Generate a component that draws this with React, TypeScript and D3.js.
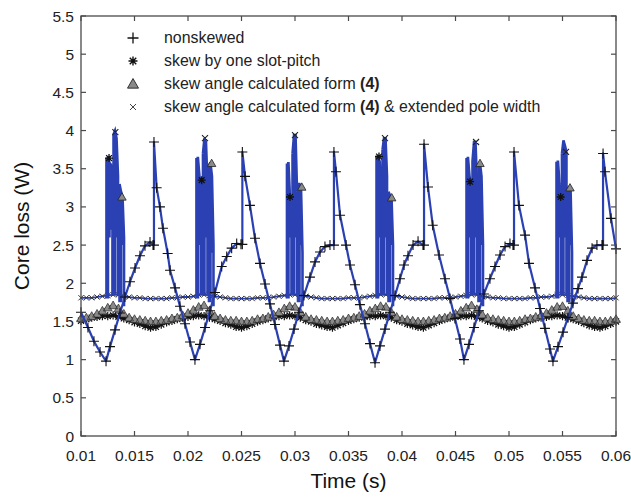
import React from "react";
import * as d3 from "d3";

const W = 631;
const H = 499;
const PL = 81, PR = 616, PT = 16, PB = 436;

const xTicks = [0.01, 0.015, 0.02, 0.025, 0.03, 0.035, 0.04, 0.045, 0.05, 0.055, 0.06];
const xTickLabels = ["0.01", "0.015", "0.02", "0.025", "0.03", "0.035", "0.04", "0.045", "0.05", "0.055", "0.06"];
const yTicks = [0, 0.5, 1, 1.5, 2, 2.5, 3, 3.5, 4, 4.5, 5, 5.5];
const yTickLabels = ["0", "0.5", "1", "1.5", "2", "2.5", "3", "3.5", "4", "4.5", "5", "5.5"];

const seriesNames = [
  "nonskewed",
  "skew by one slot-pitch",
  "skew angle calculated form ",
  "skew angle calculated form ",
];

// nonskewed core loss [time s, W]
const nonskewed: [number, number][] = [
  [0.01, 1.62], [0.01065, 1.42], [0.01121, 1.24], [0.01178, 1.1], [0.01234, 0.98],
  [0.01271, 1.17], [0.01318, 1.39], [0.01364, 1.61], [0.01411, 1.82], [0.01458, 2.02],
  [0.01505, 2.2], [0.01551, 2.36], [0.01598, 2.49], [0.01645, 2.54], [0.01673, 2.5],
  [0.01682, 2.5], [0.01682, 3.85], [0.01707, 3.25], [0.01738, 3.0], [0.01766, 2.72],
  [0.0181, 2.39], [0.01832, 2.17], [0.01879, 1.94], [0.01925, 1.7], [0.01972, 1.47],
  [0.02019, 1.23], [0.02065, 1.0],
  [0.02112, 1.2], [0.02159, 1.42], [0.02206, 1.64], [0.02252, 1.88], [0.02315, 2.22],
  [0.02362, 2.35], [0.02408, 2.46], [0.02455, 2.52], [0.02495, 2.51], [0.02508, 2.51],
  [0.02508, 3.72], [0.02533, 3.4], [0.02579, 3.02], [0.02626, 2.59], [0.02673, 2.26],
  [0.0272, 1.99], [0.02766, 1.73], [0.02813, 1.46], [0.0286, 1.19], [0.02897, 0.98],
  [0.02944, 1.18], [0.02991, 1.4], [0.03037, 1.62], [0.03084, 1.84], [0.0314, 2.08],
  [0.03187, 2.28], [0.03234, 2.41], [0.0328, 2.48], [0.03327, 2.5], [0.03364, 2.5],
  [0.03364, 3.72], [0.03383, 3.46], [0.03421, 2.89], [0.03477, 2.5], [0.03514, 2.24],
  [0.03561, 1.98], [0.03607, 1.72], [0.03654, 1.47], [0.03701, 1.21], [0.03748, 0.96],
  [0.03794, 1.18], [0.03841, 1.4], [0.03888, 1.62], [0.03935, 1.84], [0.03981, 2.06],
  [0.04019, 2.24], [0.04056, 2.36], [0.04103, 2.5], [0.0415, 2.55], [0.04196, 2.5],
  [0.04206, 2.5], [0.04206, 3.82], [0.04243, 3.26], [0.04287, 2.76], [0.04346, 2.37],
  [0.04402, 2.06], [0.04449, 1.8], [0.04495, 1.54], [0.04542, 1.27], [0.04579, 1.0],
  [0.04626, 1.2], [0.04673, 1.42], [0.0472, 1.64], [0.04766, 1.86], [0.04822, 2.06],
  [0.04869, 2.22], [0.04916, 2.37], [0.04963, 2.48], [0.05009, 2.52], [0.05037, 2.5],
  [0.05047, 2.5], [0.05047, 3.72], [0.05093, 3.02], [0.0515, 2.63], [0.05187, 2.26],
  [0.05243, 1.94], [0.0529, 1.67], [0.05336, 1.41], [0.05383, 1.14], [0.05411, 0.98],
  [0.05458, 1.17], [0.05505, 1.36], [0.05551, 1.55], [0.05598, 1.74], [0.05645, 1.93],
  [0.05682, 2.08], [0.05729, 2.3], [0.05776, 2.46], [0.05822, 2.5], [0.05869, 2.5],
  [0.05879, 2.5], [0.05879, 3.7], [0.05897, 3.46], [0.05953, 2.85], [0.06, 2.45],
];

// common sample times of the three skewed designs
const sampleT = [
  0.01, 0.0105, 0.011, 0.0115, 0.012, 0.0125, 0.013, 0.0135, 0.014, 0.0145,
  0.015, 0.0155, 0.016, 0.0165, 0.017, 0.0175, 0.018, 0.0185, 0.019, 0.0195,
  0.02, 0.0205, 0.021, 0.0215, 0.022, 0.0225, 0.023, 0.0235, 0.024, 0.0245,
  0.025, 0.0255, 0.026, 0.0265, 0.027, 0.0275, 0.028, 0.0285, 0.029, 0.0295,
  0.03, 0.0305, 0.031, 0.0315, 0.032, 0.0325, 0.033, 0.0335, 0.034, 0.0345,
  0.035, 0.0355, 0.036, 0.0365, 0.037, 0.0375, 0.038, 0.0385, 0.039, 0.0395,
  0.04, 0.0405, 0.041, 0.0415, 0.042, 0.0425, 0.043, 0.0435, 0.044, 0.0445,
  0.045, 0.0455, 0.046, 0.0465, 0.047, 0.0475, 0.048, 0.0485, 0.049, 0.0495,
  0.05, 0.0505, 0.051, 0.0515, 0.052, 0.0525, 0.053, 0.0535, 0.054, 0.0545,
  0.055, 0.0555, 0.056, 0.0565, 0.057, 0.0575, 0.058, 0.0585, 0.059, 0.0595,
  0.06,
];

// skew by one slot-pitch
const slotPitchV = [
  1.51, 1.53, 1.55, 1.56, 1.57, 1.57, 1.58, 1.56, 1.54, 1.52,
  1.49, 1.47, 1.44, 1.42, 1.43, 1.46, 1.49, 1.51, 1.53, 1.55,
  1.56, 1.57, 1.58, 1.57, 1.55, 1.53, 1.51, 1.48, 1.46, 1.43,
  1.42, 1.44, 1.47, 1.5, 1.52, 1.54, 1.56, 1.57, 1.57, 1.58,
  1.57, 1.55, 1.52, 1.5, 1.47, 1.45, 1.43, 1.42, 1.45, 1.48,
  1.51, 1.53, 1.55, 1.56, 1.57, 1.57, 1.58, 1.57, 1.55, 1.52,
  1.5, 1.47, 1.45, 1.43, 1.42, 1.45, 1.48, 1.51, 1.53, 1.55,
  1.56, 1.57, 1.57, 1.58, 1.56, 1.54, 1.51, 1.49, 1.46, 1.44,
  1.42, 1.43, 1.46, 1.49, 1.52, 1.54, 1.55, 1.56, 1.57, 1.58,
  1.57, 1.55, 1.53, 1.51, 1.48, 1.45, 1.43, 1.42, 1.44, 1.47,
  1.5,
];

// skew angle calculated form (4)
const formV = [
  1.54, 1.55, 1.57, 1.6, 1.64, 1.68, 1.71, 1.67, 1.6, 1.55,
  1.53, 1.52, 1.51, 1.5, 1.5, 1.51, 1.52, 1.54, 1.55, 1.58,
  1.61, 1.65, 1.69, 1.71, 1.64, 1.57, 1.54, 1.52, 1.51, 1.51,
  1.5, 1.5, 1.51, 1.53, 1.54, 1.56, 1.59, 1.62, 1.67, 1.7,
  1.69, 1.62, 1.56, 1.53, 1.52, 1.51, 1.5, 1.5, 1.51, 1.52,
  1.54, 1.55, 1.57, 1.6, 1.64, 1.67, 1.7, 1.69, 1.62, 1.56,
  1.53, 1.52, 1.51, 1.5, 1.5, 1.51, 1.52, 1.54, 1.55, 1.57,
  1.6, 1.64, 1.68, 1.71, 1.66, 1.59, 1.55, 1.53, 1.52, 1.51,
  1.5, 1.5, 1.51, 1.53, 1.54, 1.56, 1.58, 1.61, 1.65, 1.69,
  1.7, 1.64, 1.57, 1.54, 1.52, 1.51, 1.51, 1.5, 1.5, 1.51,
  1.53,
];

// skew angle calculated form (4) & extended pole width
const extendedV = [
  1.81, 1.81, 1.81, 1.82, 1.83, 1.84, 1.85, 1.85, 1.83, 1.82,
  1.81, 1.81, 1.8, 1.8, 1.8, 1.8, 1.8, 1.81, 1.81, 1.82,
  1.82, 1.83, 1.85, 1.85, 1.84, 1.83, 1.82, 1.81, 1.8, 1.8,
  1.8, 1.8, 1.8, 1.81, 1.81, 1.81, 1.82, 1.83, 1.84, 1.85,
  1.85, 1.84, 1.83, 1.82, 1.81, 1.8, 1.8, 1.8, 1.8, 1.8,
  1.81, 1.81, 1.81, 1.82, 1.83, 1.84, 1.85, 1.85, 1.84, 1.83,
  1.82, 1.81, 1.8, 1.8, 1.8, 1.8, 1.8, 1.81, 1.81, 1.81,
  1.82, 1.83, 1.84, 1.85, 1.85, 1.83, 1.82, 1.81, 1.81, 1.8,
  1.8, 1.8, 1.8, 1.8, 1.81, 1.81, 1.82, 1.82, 1.83, 1.85,
  1.85, 1.84, 1.83, 1.82, 1.81, 1.8, 1.8, 1.8, 1.8, 1.8,
  1.81,
];

// numerical spikes: groups of [time, low, high]
const slotPitchSpikes: [number, number, number][][] = [
  [[0.01238, 1.8, 3.64], [0.01252, 1.8, 3.64], [0.01266, 2.6, 3.58], [0.0128, 2.7, 3.55], [0.01294, 1.85, 3.55]],
  [[0.02079, 1.8, 3.64], [0.02093, 1.8, 3.64], [0.02107, 2.5, 3.4], [0.02121, 1.85, 3.35]],
  [[0.02925, 1.8, 3.57], [0.02939, 1.8, 3.57], [0.02953, 2.6, 3.13], [0.02967, 1.85, 3.0]],
  [[0.03762, 1.8, 3.66], [0.03776, 1.8, 3.66], [0.0379, 2.6, 3.6], [0.03804, 1.85, 3.5]],
  [[0.04603, 1.8, 3.64], [0.04617, 1.8, 3.64], [0.04631, 2.6, 3.4], [0.04645, 1.85, 3.33]],
  [[0.05444, 1.8, 3.59], [0.05458, 1.8, 3.59], [0.05472, 2.6, 3.3], [0.05486, 1.85, 3.13]],
];
const extendedSpikes: [number, number, number][][] = [
  [[0.01304, 1.85, 3.95], [0.01318, 1.85, 4.0], [0.01332, 2.6, 3.9], [0.01346, 1.85, 3.4]],
  [[0.0214, 1.85, 3.7], [0.02154, 1.85, 3.9], [0.02168, 2.6, 3.85], [0.02182, 1.85, 3.3]],
  [[0.02977, 1.85, 3.7], [0.02991, 1.85, 3.94], [0.03005, 2.6, 3.94], [0.03019, 1.85, 3.2]],
  [[0.03818, 1.85, 3.75], [0.03832, 1.85, 3.9], [0.03846, 2.6, 3.9], [0.0386, 1.85, 3.4]],
  [[0.04659, 1.85, 3.6], [0.04673, 1.85, 3.85], [0.04687, 2.6, 3.85], [0.04701, 1.85, 3.3]],
  [[0.05495, 1.85, 3.7], [0.05509, 1.85, 3.87], [0.05523, 2.6, 3.8], [0.05537, 1.85, 3.72]],
];
const formSpikes: [number, number, number][][] = [
  [[0.0136, 1.75, 3.3], [0.01374, 1.75, 3.2], [0.01388, 2.5, 3.13], [0.01402, 1.7, 2.6]],
  [[0.02196, 1.75, 3.57], [0.0221, 1.75, 3.57], [0.02224, 2.4, 3.4], [0.02238, 1.7, 2.5]],
  [[0.03028, 1.75, 3.3], [0.03042, 1.75, 3.3], [0.03056, 2.5, 3.26], [0.0307, 1.7, 2.4]],
  [[0.03874, 1.75, 3.2], [0.03888, 1.75, 3.15], [0.03902, 2.5, 3.12], [0.03916, 1.7, 2.5]],
  [[0.04715, 1.75, 3.57], [0.04729, 1.75, 3.57], [0.04743, 2.5, 3.4], [0.04757, 1.7, 2.5]],
  [[0.05547, 1.75, 3.26], [0.05561, 1.75, 3.26], [0.05575, 2.5, 3.25], [0.05589, 1.7, 2.4]],
];
const slotPitchTops: [number, number][] = [
  [0.01262, 3.64], [0.02128, 3.35], [0.02953, 3.13], [0.03785, 3.66], [0.04636, 3.33], [0.05483, 3.13],
];
const extendedTops: [number, number][] = [
  [0.01321, 3.98], [0.02159, 3.9], [0.03, 3.94], [0.03841, 3.9], [0.04692, 3.85], [0.05533, 3.72],
];
const formTops: [number, number][] = [
  [0.01383, 3.13], [0.02221, 3.57], [0.03063, 3.26], [0.03904, 3.12], [0.04729, 3.57], [0.0557, 3.25],
];

const BLUE = "#2b41b3";
const AXIS = "#4a4a4a";
const FONT = "'Liberation Sans', Arial, Helvetica, sans-serif";

const plusP = (cx: number, cy: number, s: number) => `M${cx - s},${cy}H${cx + s}M${cx},${cy - s}V${cy + s}`;
const crossP = (cx: number, cy: number, s: number) =>
  `M${cx - s},${cy - s}L${cx + s},${cy + s}M${cx - s},${cy + s}L${cx + s},${cy - s}`;
const starP = (cx: number, cy: number, s: number) => plusP(cx, cy, s) + crossP(cx, cy, s * 0.72);
const triP = (cx: number, cy: number, s: number) =>
  `M${cx},${cy - s}L${cx + s},${cy + s * 0.75}L${cx - s},${cy + s * 0.75}Z`;

export default function App() {
  const x = d3.scaleLinear().domain([0.01, 0.06]).range([PL, PR]);
  const y = d3.scaleLinear().domain([0, 5.5]).range([PB, PT]);
  const line = d3
    .line<[number, number]>()
    .x((d) => x(d[0]))
    .y((d) => y(d[1]));
  const smooth = d3
    .line<[number, number]>()
    .x((d) => x(d[0]))
    .y((d) => y(d[1]))
    .curve(d3.curveMonotoneX);

  const slotPts: [number, number][] = sampleT.map((t, i) => [t, slotPitchV[i]]);
  const formPts: [number, number][] = sampleT.map((t, i) => [t, formV[i]]);
  const extPts: [number, number][] = sampleT.map((t, i) => [t, extendedV[i]]);

  const spikePath = (groups: [number, number, number][][]) =>
    groups
      .map((g) => {
        const verts = g.map(([t, lo, hi]) => `M${x(t)},${y(lo)}V${y(hi)}`).join("");
        const top = line(g.map(([t, , hi]) => [t, hi] as [number, number])) || "";
        return verts + top;
      })
      .join("");

  const markers = (pts: [number, number][], fn: (cx: number, cy: number, s: number) => string, s: number) =>
    pts.map(([t, v]) => fn(x(t), y(v), s)).join("");

  const legendY = [38, 61, 84, 107];
  const lx = 133;

  return (
    <svg
      width={W}
      height={H}
      viewBox={`0 0 ${W} ${H}`}
      style={{ position: "absolute", left: 0, top: 0, background: "#fff" }}
      fontFamily={FONT}
    >
      <rect x={0} y={0} width={W} height={H} fill="#fff" />

      {/* skew by one slot-pitch */}
      <path d={smooth(slotPts) || ""} fill="none" stroke="#222" strokeWidth={2.5} />
      <path d={markers(slotPts, starP, 4.2)} fill="none" stroke="#111" strokeWidth={1.2} />

      {/* skew angle calculated form (4) */}
      <path d={smooth(formPts) || ""} fill="none" stroke="#555" strokeWidth={2.5} />
      <path d={markers(formPts, triP, 4.4)} fill="#8a8a8a" stroke="#2a2a2a" strokeWidth={0.7} />

      {/* extended pole width */}
      <path d={smooth(extPts) || ""} fill="none" stroke={BLUE} strokeWidth={1.8} />
      <path d={markers(extPts, crossP, 2.6)} fill="none" stroke="#333" strokeWidth={1} />

      {/* spikes */}
      <path d={spikePath(slotPitchSpikes)} fill="none" stroke={BLUE} strokeWidth={2.6} />
      <path d={spikePath(extendedSpikes)} fill="none" stroke={BLUE} strokeWidth={2.6} />
      <path d={spikePath(formSpikes)} fill="none" stroke={BLUE} strokeWidth={2.6} />

      {/* nonskewed */}
      <path d={line(nonskewed) || ""} fill="none" stroke={BLUE} strokeWidth={2.2} strokeLinejoin="round" />
      <path d={markers(nonskewed, plusP, 5)} fill="none" stroke="#111" strokeWidth={1.1} />

      {/* spike top markers */}
      <path d={markers(slotPitchTops, starP, 4)} fill="none" stroke="#111" strokeWidth={1.3} />
      <path d={markers(extendedTops, crossP, 3)} fill="none" stroke="#222" strokeWidth={1.1} />
      <path d={markers(formTops, triP, 4.2)} fill="#8a8a8a" stroke="#222" strokeWidth={0.8} />

      {/* frame */}
      <rect x={PL} y={PT} width={PR - PL} height={PB - PT} fill="none" stroke={AXIS} strokeWidth={1.3} />
      {xTicks.map((t, i) => (
        <g key={"xt" + i}>
          <line x1={x(t)} x2={x(t)} y1={PB} y2={PB - 5} stroke={AXIS} strokeWidth={1.2} />
          <line x1={x(t)} x2={x(t)} y1={PT} y2={PT + 5} stroke={AXIS} strokeWidth={1.2} />
          <text x={x(t)} y={PB + 25} textAnchor="middle" fontSize={15.5} fill="#222">
            {xTickLabels[i]}
          </text>
        </g>
      ))}
      {yTicks.map((v, i) => (
        <g key={"yt" + i}>
          <line x1={PL} x2={PL + 5} y1={y(v)} y2={y(v)} stroke={AXIS} strokeWidth={1.2} />
          <line x1={PR} x2={PR - 5} y1={y(v)} y2={y(v)} stroke={AXIS} strokeWidth={1.2} />
          <text x={PL - 7} y={y(v) + 5.5} textAnchor="end" fontSize={15.5} fill="#222">
            {yTickLabels[i]}
          </text>
        </g>
      ))}

      <text x={(PL + PR) / 2} y={488} textAnchor="middle" fontSize={21} fill="#111">
        Time (s)
      </text>
      <text
        transform={`translate(29,${(PT + PB) / 2}) rotate(-90)`}
        textAnchor="middle"
        fontSize={21}
        fill="#111"
      >
        Core loss (W)
      </text>

      {/* legend */}
      <path d={plusP(lx, legendY[0], 5.5)} stroke="#111" strokeWidth={1.3} fill="none" />
      <path d={starP(lx, legendY[1], 4.5)} stroke="#111" strokeWidth={1.4} fill="none" />
      <path d={triP(lx, legendY[2], 5.5)} stroke="#222" strokeWidth={0.9} fill="#8a8a8a" />
      <path d={crossP(lx, legendY[3], 3)} stroke="#444" strokeWidth={1} fill="none" />
      <g fontSize={15.9} fill="#222">
        <text x={164} y={legendY[0] + 5}>{seriesNames[0]}</text>
        <text x={164} y={legendY[1] + 5}>{seriesNames[1]}</text>
        <text x={164} y={legendY[2] + 5} xmlSpace="preserve">
          {seriesNames[2]}
          <tspan fontWeight="bold">(4)</tspan>
        </text>
        <text x={164} y={legendY[3] + 5} xmlSpace="preserve">
          {seriesNames[3]}
          <tspan fontWeight="bold">(4)</tspan>
          <tspan> &amp; extended pole width</tspan>
        </text>
      </g>
    </svg>
  );
}
